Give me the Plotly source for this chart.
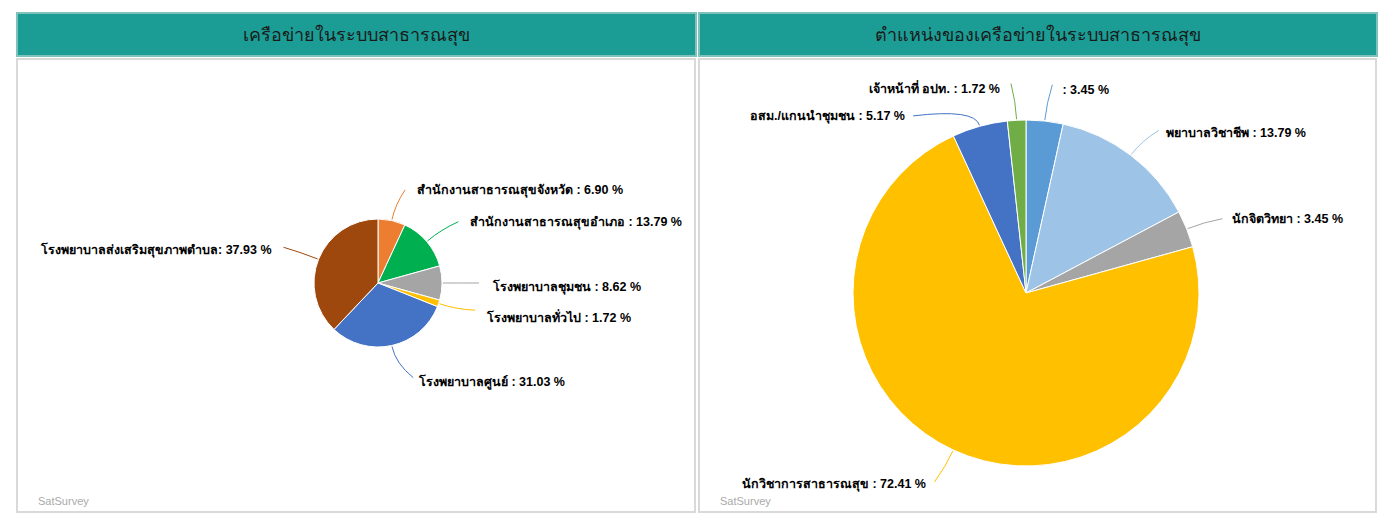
import math
import plotly.graph_objects as go

# The page body adds an 8px margin; shift all reference pixel geometry by it.
OFF = 8
W, H = 1392 - OFF, 517 - OFF

# ---------------- data ----------------
left_title = "เครือข่ายในระบบสาธารณสุข"
left_labels = ["สำนักงานสาธารณสุขจังหวัด", "สำนักงานสาธารณสุขอำเภอ", "โรงพยาบาลชุมชน",
               "โรงพยาบาลทั่วไป", "โรงพยาบาลศูนย์", "โรงพยาบาลส่งเสริมสุขภาพตำบล"]
left_values = [6.90, 13.79, 8.62, 1.72, 31.03, 37.93]
left_seps = [" : ", " : ", " : ", " : ", " : ", ": "]
left_colors = ["#ED7D31", "#00B050", "#A5A5A5", "#FFC000", "#4472C4", "#9E480E"]

right_title = "ตำแหน่งของเครือข่ายในระบบสาธารณสุข"
right_labels = ["", "พยาบาลวิชาชีพ", "นักจิตวิทยา", "นักวิชาการสาธารณสุข",
                "อสม./แกนนำชุมชน", "เจ้าหน้าที่ อปท."]
right_values = [3.45, 13.79, 3.45, 72.41, 5.17, 1.72]
right_seps = [" : "] * 6
right_colors = ["#5B9BD5", "#9DC3E6", "#A5A5A5", "#FFC000", "#4472C4", "#70AD47"]

# ---------------- layout helpers (reference pixel geometry) ----------------
def px(x):
    return (x - OFF) / W

def py(y):
    return 1 - (y - OFF) / H

# label placement styling: angle nudge (deg), leader length (px), text gap (px), text vertical shift (px)
LEFT_PIE = dict(cx=378, cy=283, r=64,
                nudge=[3.8, 3, 0, -3, -8, -1], ext=[33, 37, 37, 37, 37, 37],
                gap=[10, 10, 11, 9, 3, 10], vshift=[1, 1, 4, 7, 4, 3])
RIGHT_PIE = dict(cx=1026, cy=293, r=173,
                 nudge=[1, 2, 1, 1, -17, -1], ext=[37, 37, 37, 37, 37, 37],
                 gap=[5, 5, 8, 6, 6, 9], vshift=[5, 3, 0, 3, 1, 4])

LABEL_FONT = dict(family="Liberation Sans, Arial, sans-serif", size=12.5, color="#000000", weight="bold")

fig = go.Figure()
shapes = []
annotations = []


def add_pie(labels, values, seps, colors, geo):
    cx, cy, r = geo["cx"], geo["cy"], geo["r"]
    fig.add_trace(go.Pie(
        labels=[l if l else " " for l in labels], values=values, sort=False,
        direction="clockwise", rotation=0, textinfo="none", hoverinfo="skip",
        marker=dict(colors=colors, line=dict(color="white", width=1)),
        domain=dict(x=[px(cx - r), px(cx + r)], y=[py(cy + r), py(cy - r)]),
        showlegend=False,
    ))
    total = sum(values)
    cum = 0.0
    for i, v in enumerate(values):
        mid = (cum + v / 2) / total * 360.0
        cum += v
        a = math.radians(mid)
        ae = math.radians(mid + geo["nudge"][i])
        ext = geo["ext"][i]
        sx, sy = cx + (r + 1) * math.sin(a), cy - (r + 1) * math.cos(a)
        qx, qy = cx + (r + ext / 2) * math.sin(a), cy - (r + ext / 2) * math.cos(a)
        ex, ey = cx + (r + ext) * math.sin(ae), cy - (r + ext) * math.cos(ae)
        shapes.append(dict(
            type="path", xref="paper", yref="paper",
            path=f"M {px(sx)},{py(sy)} Q {px(qx)},{py(qy)} {px(ex)},{py(ey)}",
            line=dict(color=colors[i], width=1),
        ))
        right_side = math.sin(ae) >= 0
        text = f"{labels[i]}{seps[i]}{v:.2f} %"
        gap = geo["gap"][i]
        annotations.append(dict(
            x=px(ex + (gap if right_side else -gap)), y=py(ey + geo["vshift"][i]),
            xref="paper", yref="paper", text=text, showarrow=False,
            xanchor="left" if right_side else "right", yanchor="middle",
            font=LABEL_FONT,
        ))


add_pie(left_labels, left_values, left_seps, left_colors, LEFT_PIE)
add_pie(right_labels, right_values, right_seps, right_colors, RIGHT_PIE)

# panels: headers and boxes
panels = [(17, 696, left_title), (699, 1377, right_title)]
for x0, x1, title in panels:
    shapes.insert(0, dict(type="rect", xref="paper", yref="paper",
                          x0=px(x0), x1=px(x1), y0=py(56), y1=py(13),
                          fillcolor="#1b9d95", line=dict(color="#7fc1bb", width=2), layer="below"))
    shapes.insert(0, dict(type="rect", xref="paper", yref="paper",
                          x0=px(x0), x1=px(x1 - 1), y0=py(512), y1=py(59),
                          fillcolor="white", line=dict(color="#d9d9d9", width=2), layer="below"))
    annotations.append(dict(x=px((x0 + x1) / 2), y=py(35), xref="paper", yref="paper",
                            text=title, showarrow=False, xanchor="center", yanchor="middle",
                            font=dict(family="Liberation Sans, Arial, sans-serif", size=18, color="#1a1a1a")))
    annotations.append(dict(x=px(x0 + 19), y=py(501), xref="paper", yref="paper",
                            text="SatSurvey", showarrow=False, xanchor="left", yanchor="middle",
                            font=dict(family="Liberation Sans, Arial, sans-serif", size=11, color="#aaaaaa")))

fig.update_layout(
    width=W, height=H, margin=dict(l=0, r=0, t=0, b=0),
    paper_bgcolor="white", plot_bgcolor="white",
    shapes=shapes, annotations=annotations, showlegend=False,
)

fig.write_html("out.html")
